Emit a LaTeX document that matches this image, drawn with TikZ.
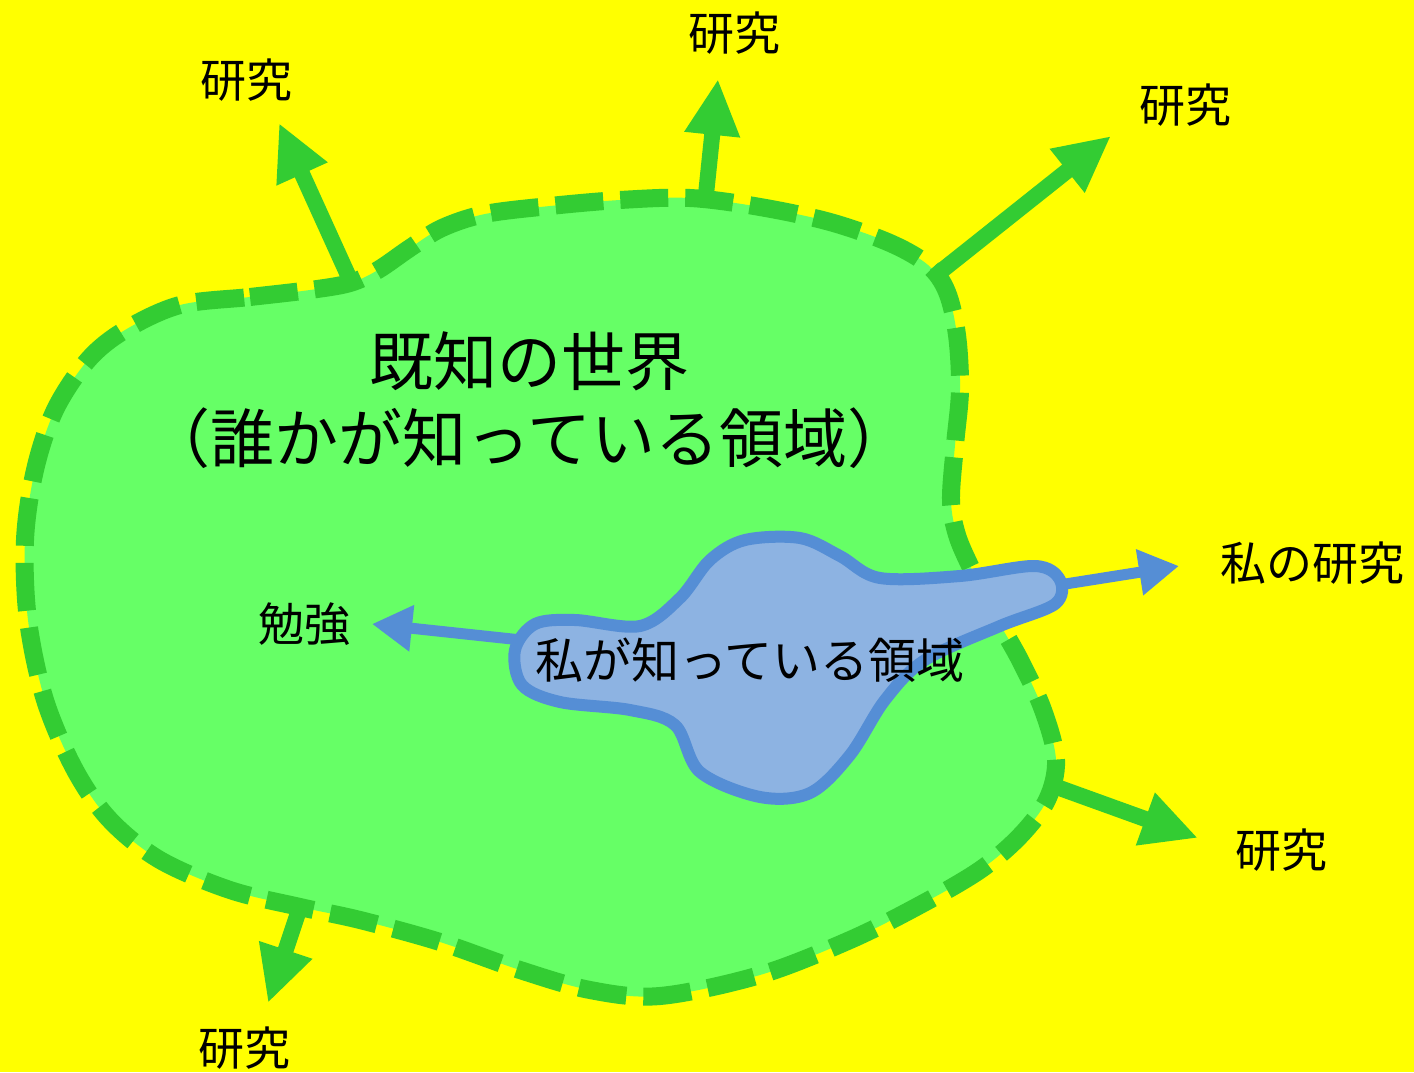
\documentclass[tikz,border=0pt]{standalone}
\usepackage{fontspec}
\setmainfont{Noto Sans CJK JP}
\usetikzlibrary{arrows.meta}
\definecolor{bgY}{HTML}{FFFF00}
\definecolor{gFill}{HTML}{66FF66}
\definecolor{gLine}{HTML}{33CC33}
\definecolor{bFill}{HTML}{8DB3E2}
\definecolor{bLine}{HTML}{558ED5}
\begin{document}
\begin{tikzpicture}[x=1pt,y=-1pt,
  garrow/.style={draw=gLine, line width=16pt, -{Triangle[length=56pt,width=52pt]}},
  barrow/.style={draw=bLine, line width=11pt, -{Triangle[length=40pt,width=44pt]}},
  lbl/.style={font=\fontsize{46}{55}\selectfont, inner sep=0pt, text=black},
  known/.style={draw=gLine, fill=gFill, line width=18pt, dash pattern=on 48pt off 17pt},
  mine/.style={draw=bLine, fill=bFill, line width=12pt}]
\useasboundingbox (0,0) rectangle (1414,1072);
\fill[bgY] (0,0) rectangle (1414,1072);

% known world
\path[known] plot[smooth cycle, tension=0.55] coordinates {
 (180,305) (250,297) (310,290) (350,283) (378,270) (410,248) (442,228) (485,214)
 (550,206) (620,200) (690,198) (760,207) (830,222) (890,243) (928,265) (947,292)
 (957,335) (960,390) (955,445) (951,500) (957,535) (972,570) (993,612) (1020,660)
 (1043,710) (1056,760) (1047,800) (1020,836) (980,870) (920,905) (850,940)
 (760,975) (660,996) (590,990) (520,970) (440,942) (360,920) (300,907) (230,890)
 (160,860) (110,820) (75,770) (45,700) (28,620) (25,540) (35,470) (55,410)
 (88,360) (125,330)};

% research arrow anchors
\coordinate (s1) at (352,284);
\coordinate (t1) at (279,123);
\coordinate (s2) at (705,204);
\coordinate (t2) at (718,79);
\coordinate (s3) at (935,276);
\coordinate (t3) at (1111,136);
\coordinate (s4) at (1054,786);
\coordinate (t4) at (1198,838);
\coordinate (s5) at (301,904);
\coordinate (t5) at (268,1003);
\draw[garrow] (s1) -- (t1);
\draw[garrow] (s2) -- (t2);
\draw[garrow] (s3) -- (t3);
\draw[garrow] (s4) -- (t4);
\draw[garrow] (s5) -- (t5);

% my arrows
\coordinate (bs1) at (1040,588);
\coordinate (bt1) at (1179,566);
\coordinate (bs2) at (540,642);
\coordinate (bt2) at (372,624);
\draw[barrow] (bs1) -- (bt1);
\draw[barrow] (bs2) -- (bt2);

% my region
\path[mine] plot[smooth cycle, tension=0.55] coordinates {
 (515,650) (535,624) (575,620) (640,626) (680,598) (710,560) (745,540) (800,538)
 (840,556) (880,578) (960,576) (1035,566) (1060,580) (1055,604) (1000,626)
 (925,660) (885,700) (850,755) (810,793) (760,797) (700,772) (675,725)
 (630,710) (560,702) (522,685)};

% texts
\node[font=\fontsize{64}{70}\selectfont] (title) at (529,361) {既知の世界};
\node[font=\fontsize{64}{70}\selectfont] (sub) at (529,438) {（誰かが知っている領域）};
\node[lbl, font=\fontsize{48}{55}\selectfont] (mylbl) at (750,660) {私が知っている領域};
\node[lbl] (r1) at (246,80) {研究};
\node[lbl] (r2) at (734,33) {研究};
\node[lbl] (r3) at (1185,105) {研究};
\node[lbl] (r4) at (1281,850) {研究};
\node[lbl] (r5) at (244,1048) {研究};
\node[lbl] (myr) at (1312,563) {私の研究};
\node[lbl] (study) at (304,624) {勉強};
\end{tikzpicture}
\end{document}
